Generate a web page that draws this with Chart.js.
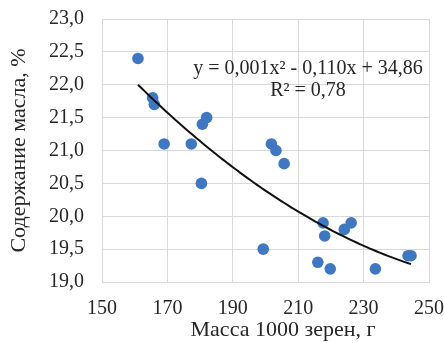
<!DOCTYPE html>
<html>
<head>
<meta charset="utf-8">
<script src="https://cdn.jsdelivr.net/npm/chart.js@4.4.1/dist/chart.umd.min.js"></script>
<style>
html,body{margin:0;padding:0;background:#fff;}
#wrap{width:444px;height:343px;position:relative;}
</style>
</head>
<body>
<div id="wrap"><canvas id="c" width="444" height="343"></canvas></div>
<script>
// Data
const massX = [161, 165.5, 166, 169, 177.3, 180.7, 182, 180.4, 201.8, 203.2, 205.7, 199.3, 216, 219.8, 217.6, 218.1, 224.1, 226.2, 233.6, 243.6, 244.5];
const oilY  = [22.4, 21.8, 21.7, 21.1, 21.1, 21.4, 21.5, 20.5, 21.1, 21.0, 20.8, 19.5, 19.3, 19.2, 19.9, 19.7, 19.8, 19.9, 19.2, 19.4, 19.4];
const xTicks = [150, 170, 190, 210, 230, 250];
const yTicks = [19.0, 19.5, 20.0, 20.5, 21.0, 21.5, 22.0, 22.5, 23.0];
const equationText = 'y = 0,001x² - 0,110x + 34,86';
const r2Text = 'R² = 0,78';
const xTitle = 'Масса 1000 зерен, г';
const yTitle = 'Содержание масла, %';

// Quadratic least-squares trendline computed from the data
function quadFit(xs, ys) {
  let n = xs.length, s = [0,0,0,0,0], t = [0,0,0];
  for (let i = 0; i < n; i++) {
    const x = xs[i], y = ys[i];
    let p = 1;
    for (let k = 0; k < 5; k++) { s[k] += p; if (k < 3) t[k] += p * y; p *= x; }
  }
  const M = [[s[0],s[1],s[2],t[0]],[s[1],s[2],s[3],t[1]],[s[2],s[3],s[4],t[2]]];
  for (let i = 0; i < 3; i++) {
    for (let j = i + 1; j < 3; j++) {
      const f = M[j][i] / M[i][i];
      for (let k = i; k < 4; k++) M[j][k] -= f * M[i][k];
    }
  }
  const r = [0,0,0];
  for (let i = 2; i >= 0; i--) {
    let v = M[i][3];
    for (let k = i + 1; k < 3; k++) v -= M[i][k] * r[k];
    r[i] = v / M[i][i];
  }
  return r; // c, b, a
}
const coef = quadFit(massX, oilY);
const xmin = Math.min(...massX), xmax = Math.max(...massX);
const trend = [];
for (let i = 0; i <= 80; i++) {
  const x = xmin + (xmax - xmin) * i / 80;
  trend.push({x: x, y: coef[0] + coef[1] * x + coef[2] * x * x});
}

const FONT = "'Liberation Serif', 'Times New Roman', serif";
const TXT = '#262626';

const annotPlugin = {
  id: 'annot',
  afterDatasetsDraw(chart) {
    const ctx = chart.ctx;
    ctx.save();
    ctx.fillStyle = TXT;
    ctx.font = '20px ' + FONT;
    ctx.textAlign = 'center';
    ctx.textBaseline = 'middle';
    ctx.fillText(equationText, 308, 69);
    ctx.fillText(r2Text, 308, 91);
    // x-axis title (offset to the right as in the reference)
    ctx.font = '22px ' + FONT;
    ctx.fillText(xTitle, 283, 330);
    ctx.restore();
  }
};

new Chart(document.getElementById('c'), {
  type: 'scatter',
  data: {
    datasets: [
      {
        label: 'points',
        data: massX.map((x, i) => ({x: x, y: oilY[i]})),
        backgroundColor: '#3F78C1',
        borderColor: '#3F78C1',
        pointRadius: 5.8,
        pointHoverRadius: 5.8,
        borderWidth: 0,
        order: 2
      },
      {
        label: 'trend',
        type: 'line',
        data: trend,
        borderColor: '#111',
        borderWidth: 2,
        pointRadius: 0,
        fill: false,
        tension: 0,
        order: 1
      }
    ]
  },
  options: {
    responsive: false,
    animation: false,
    devicePixelRatio: 1,
    layout: {padding: {left: 0, right: 15, top: 19, bottom: 0}},
    plugins: {legend: {display: false}, tooltip: {enabled: false}},
    scales: {
      x: {
        type: 'linear',
        min: 150, max: 250,
        afterBuildTicks(s) { s.ticks = xTicks.map(v => ({value: v})); },
        afterFit(s) { s.height = 61; s.paddingLeft = 0; s.paddingRight = 0; },
        grid: {color: '#d9d9d9', lineWidth: 1, drawTicks: false},
        border: {color: '#d9d9d9'},
        ticks: {color: TXT, font: {family: FONT, size: 20}, padding: 15, maxRotation: 0},
        title: {display: false, text: xTitle}
      },
      y: {
        type: 'linear',
        min: 19, max: 23,
        afterBuildTicks(s) { s.ticks = yTicks.map(v => ({value: v})); },
        afterFit(s) { s.width = 102; s.paddingTop = 0; s.paddingBottom = 0; },
        grid: {color: '#d9d9d9', lineWidth: 1, drawTicks: false},
        border: {color: '#d9d9d9'},
        ticks: {color: TXT, font: {family: FONT, size: 20}, padding: 18,
          callback: v => v.toFixed(1).replace('.', ',')},
        title: {display: true, text: yTitle, color: TXT, font: {family: FONT, size: 22}, padding: {top: 6, bottom: 0}}
      }
    }
  },
  plugins: [annotPlugin]
});
</script>
</body>
</html>
